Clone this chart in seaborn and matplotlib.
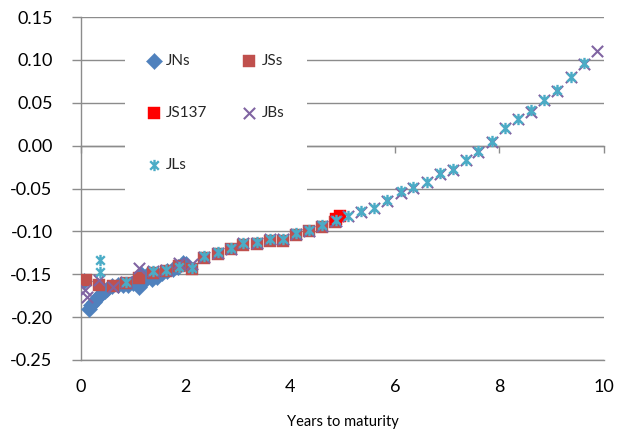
import matplotlib
matplotlib.use("Agg")
import matplotlib.pyplot as plt
import seaborn as sns
import numpy as np
from matplotlib.path import Path

# ---------------- data ----------------
jns_x = [0.05, 0.15, 0.20, 0.25, 0.30, 0.35, 0.40, 0.45, 0.50, 0.60, 0.70, 0.80, 0.90,
         1.00, 1.05, 1.10, 1.15, 1.20, 1.25, 1.35, 1.45, 1.55, 1.65, 1.75, 1.85, 1.95, 2.00]
jns_y = [-0.158, -0.190, -0.186, -0.182, -0.178, -0.175, -0.172, -0.170, -0.167, -0.164, -0.163,
         -0.162, -0.163, -0.160, -0.157, -0.165, -0.150, -0.158, -0.152, -0.155, -0.153, -0.148,
         -0.146, -0.144, -0.142, -0.137, -0.138]

jss_x = [0.10, 0.35, 0.61, 0.86, 1.11, 1.37, 1.62, 1.87, 2.12, 2.36, 2.61, 2.86, 3.10, 3.36,
         3.61, 3.86, 4.11, 4.36, 4.61, 4.86]
jss_y = [-0.157, -0.162, -0.164, -0.160, -0.154, -0.149, -0.146, -0.140, -0.144, -0.131, -0.126,
         -0.121, -0.116, -0.115, -0.111, -0.111, -0.104, -0.100, -0.095, -0.089]

js137_x = [4.88, 4.96]
js137_y = [-0.0855, -0.0820]

jbs_x = [0.08, 0.11, 0.35, 0.61, 0.86, 1.11, 1.37, 1.62, 1.87, 2.12, 2.36, 2.61, 2.86, 3.10,
         3.36, 3.61, 3.87, 4.11, 4.36, 4.61, 4.87, 5.11, 5.35, 5.61, 5.86, 6.11, 6.35, 6.61,
         6.86, 7.11, 7.36, 7.60, 7.85, 8.11, 8.36, 8.60, 8.86, 9.11, 9.36, 9.61, 9.86]
jbs_y = [-0.168, -0.177, -0.157, -0.165, -0.159, -0.143, -0.146, -0.145, -0.137, -0.138, -0.130,
         -0.125, -0.120, -0.114, -0.113, -0.109, -0.109, -0.103, -0.099, -0.094, -0.088, -0.082,
         -0.077, -0.073, -0.065, -0.055, -0.049, -0.043, -0.033, -0.028, -0.017, -0.007, 0.004,
         0.020, 0.031, 0.039, 0.053, 0.064, 0.080, 0.095, 0.110]

jls_x = [0.36, 0.36, 0.86, 1.37, 1.62, 1.87, 2.12, 2.36, 2.61, 2.86, 3.10, 3.36, 3.61, 3.87,
         4.11, 4.36, 4.61, 4.87, 5.11, 5.35, 5.61, 5.86, 6.11, 6.35, 6.61, 6.86, 7.11, 7.36,
         7.60, 7.85, 8.11, 8.36, 8.60, 8.86, 9.11, 9.36, 9.61]
jls_y = [-0.133, -0.147, -0.159, -0.146, -0.145, -0.142, -0.143, -0.129, -0.124, -0.119, -0.1135,
         -0.1128, -0.1085, -0.1085, -0.102, -0.098, -0.093, -0.087, -0.0816, -0.0766, -0.0727,
         -0.0638, -0.0533, -0.0482, -0.0424, -0.0319, -0.0272, -0.0163, -0.0066, 0.005, 0.0206,
         0.0315, 0.0415, 0.0533, 0.0645, 0.0805, 0.096]

x_ticks = [0, 2, 4, 6, 8, 10]
y_ticks = [-0.25, -0.20, -0.15, -0.10, -0.05, 0.00, 0.05, 0.10, 0.15]
x_label = "Years to maturity"

# ---------------- style ----------------
sns.set_theme(style="white")
plt.rcParams['font.family'] = ['Lato', 'DejaVu Sans']

GRID = "#8c8c8c"
asterisk = Path([(0, -0.5), (0, 0.5), (-0.38, -0.38), (0.38, 0.38), (-0.38, 0.38), (0.38, -0.38)],
                [Path.MOVETO, Path.LINETO, Path.MOVETO, Path.LINETO, Path.MOVETO, Path.LINETO])

fig = plt.figure(figsize=(6.31, 4.32), dpi=100)
ax = fig.add_axes([81 / 631, 1 - 360 / 432, 523 / 631, 343 / 432])

sns.scatterplot(x=jns_x, y=jns_y, marker="D", s=68, color="#4F81BD", edgecolor="#4F81BD",
                linewidth=0.3, label="JNs", ax=ax, zorder=3)
sns.scatterplot(x=jss_x, y=jss_y, marker="s", s=66, color="#C0504D", edgecolor="#C0504D",
                linewidth=0.3, label="JSs", ax=ax, zorder=3)
sns.scatterplot(x=js137_x, y=js137_y, marker="s", s=70, color="#FF0000", edgecolor="#FF0000",
                linewidth=0.3, label="JS137", ax=ax, zorder=3)
sns.scatterplot(x=jbs_x, y=jbs_y, marker="x", s=66, color="#8064A2", linewidth=1.5,
                label="JBs", ax=ax, zorder=3)
sns.scatterplot(x=jls_x, y=jls_y, marker=asterisk, s=66, color="#4BACC6", edgecolor="#4BACC6",
                linewidth=1.7, label="JLs", ax=ax, zorder=3)

ax.set_xlim(0, 10)
ax.set_ylim(-0.25, 0.15)
ax.set_xticks(x_ticks)
ax.set_xticklabels([str(t) for t in x_ticks])
ax.set_yticks(y_ticks)
ax.set_yticklabels([f"{t:.2f}" for t in y_ticks])

ax.yaxis.grid(True, color=GRID, linewidth=1.0)
ax.xaxis.grid(False)
ax.set_axisbelow(True)

for side in ["top", "right"]:
    ax.spines[side].set_visible(False)
for side in ["left", "bottom"]:
    ax.spines[side].set_color(GRID)
    ax.spines[side].set_linewidth(1.0)

ax.tick_params(axis="y", direction="out", length=6.5, width=1.0, color=GRID,
               labelsize=13, pad=14, labelcolor="black", left=True)
ax.tick_params(axis="x", length=0, labelsize=13, pad=14, labelcolor="black")
ax.set_xlabel(x_label, fontsize=10.5, labelpad=14, color="black")
ax.set_ylabel("")

# horizontal axis crossing at y = 0 with tick marks pointing down
sec = ax.secondary_xaxis(0.625)
sec.set_xticks(x_ticks)
sec.set_xticklabels([])
sec.xaxis.set_ticks_position("bottom")
sec.tick_params(axis="x", which="both", direction="out", length=5, width=1.0, color=GRID,
                bottom=True, top=False, labelbottom=False, labeltop=False)
for sp in sec.spines.values():
    sp.set_color(GRID)
    sp.set_linewidth(1.0)
sec.set_zorder(1)

handles, labels = ax.get_legend_handles_labels()
order = [labels.index(n) for n in ["JNs", "JS137", "JLs", "JSs", "JBs"]]
leg = ax.legend([handles[i] for i in order], [labels[i] for i in order],
                loc="upper left", bbox_to_anchor=(0.069, 0.982), ncol=2, fontsize=11,
                frameon=True, facecolor="white", edgecolor="none", framealpha=1,
                labelspacing=2.5, handlelength=0.8, handletextpad=0.4, columnspacing=2.35,
                borderpad=1.5, fancybox=False)
leg.set_zorder(10)

fig.savefig("out.png", dpi=100)
